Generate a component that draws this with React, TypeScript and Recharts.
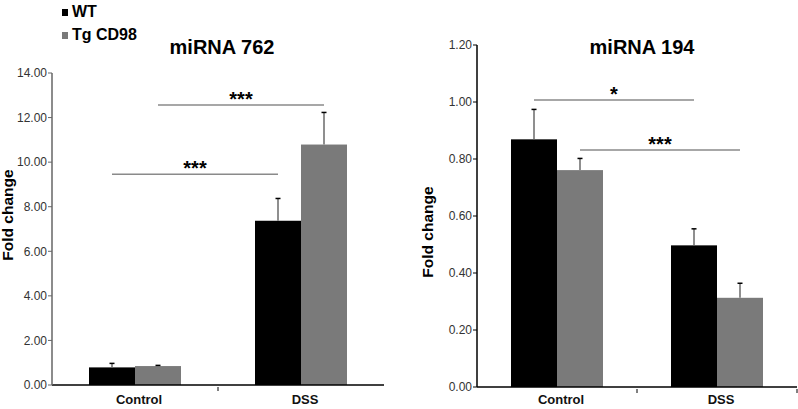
import React from 'react'
import { BarChart, Bar, XAxis, YAxis, ReferenceLine } from 'recharts'

const categories = ['Control', 'DSS']

// miRNA 762
const wt762 = [0.79, 7.37]
const tg762 = [0.85, 10.79]
const wt762Err = [0.18, 1.0]
const tg762Err = [0.03, 1.44]
const ticks762 = [0, 2, 4, 6, 8, 10, 12, 14]

// miRNA 194
const wt194 = [0.869, 0.497]
const tg194 = [0.761, 0.313]
const wt194Err = [0.105, 0.058]
const tg194Err = [0.041, 0.051]
const ticks194 = [0, 0.2, 0.4, 0.6, 0.8, 1.0, 1.2]

// significance brackets: which series they join, height, stars
const sig762 = [
  { series: 'wt', y: 9.46, stars: '***' },
  { series: 'tg', y: 12.56, stars: '***' },
]
const sig194 = [
  { series: 'wt', y: 1.007, stars: '*' },
  { series: 'tg', y: 0.832, stars: '***' },
]

const WT_COLOR = '#000000'
const TG_COLOR = '#7a7a7a'
const FONT = '"Liberation Sans", Arial, sans-serif'
const BAR_SIZE = 46

const build = (wt: number[], tg: number[], wtErr: number[], tgErr: number[]) =>
  categories.map((c, i) => ({ name: c, wt: wt[i], tg: tg[i], wtErr: wtErr[i], tgErr: tgErr[i] }))

const data762 = build(wt762, tg762, wt762Err, tg762Err)
const data194 = build(wt194, tg194, wt194Err, tg194Err)

// bar + upward-only error bar, error length scaled from the bar's own geometry
function barWithError(errKey: 'wtErr' | 'tgErr') {
  return (props: any) => {
    const { x, y, width, height, fill, payload, value } = props
    const v = Array.isArray(value) ? value[1] - value[0] : value
    const err = payload[errKey]
    const top = y - (err * height) / v
    const cx = x + width / 2
    return (
      <g>
        <rect x={x} y={y} width={width} height={height} fill={fill} />
        <line x1={cx} y1={y} x2={cx} y2={top} stroke="#6a6a6a" strokeWidth={1.5} />
        <line x1={cx - 2.5} y1={top} x2={cx + 2.5} y2={top} stroke="#000" strokeWidth={1.5} />
      </g>
    )
  }
}

function sigShape(series: string, stars: string) {
  return (props: any) => {
    const { x1, y1, x2 } = props
    const shift = series === 'wt' ? -BAR_SIZE / 2 : BAR_SIZE / 2
    const a = x1 + shift
    const b = x2 + shift
    return (
      <g>
        <line x1={a} y1={y1} x2={b} y2={y1} stroke="#8a8a8a" strokeWidth={1.5} />
        <text
          x={(a + b) / 2}
          y={y1 + 1}
          textAnchor="middle"
          fontFamily={FONT}
          fontWeight="bold"
          fontSize={20}
          fill="#000"
        >
          {stars}
        </text>
      </g>
    )
  }
}

function CategoryTick(props: any) {
  const { x, y, payload, index, width, endTick, labelDy } = props
  const band = width / categories.length
  const edge = x + band / 2
  const showEdge = index < categories.length - 1 || endTick
  return (
    <g>
      {showEdge && <line x1={edge} y1={y} x2={edge} y2={y + 4} stroke="#000" strokeWidth={1} />}
      <text
        x={x + 4}
        y={y + labelDy}
        textAnchor="middle"
        fontFamily={FONT}
        fontWeight="bold"
        fontSize={13}
        fill="#111"
      >
        {payload.value}
      </text>
    </g>
  )
}

const yTick = { fontSize: 12, fill: '#333', fontFamily: FONT }

export default function App() {
  return (
    <div style={{ position: 'absolute', left: 0, top: 0, width: 798, height: 409, background: '#fff', fontFamily: FONT }}>
      {/* legend */}
      <div style={{ position: 'absolute', left: 62, top: 2, fontWeight: 'bold', fontSize: 16, lineHeight: '20px' }}>
        <div style={{ display: 'flex', alignItems: 'center' }}>
          <span style={{ width: 6, height: 7, background: WT_COLOR, marginRight: 4, display: 'inline-block' }} />
          WT
        </div>
        <div style={{ display: 'flex', alignItems: 'center', marginTop: 3 }}>
          <span style={{ width: 6, height: 7, background: TG_COLOR, marginRight: 4, display: 'inline-block' }} />
          Tg CD98
        </div>
      </div>

      {/* titles */}
      <div style={{ position: 'absolute', left: 122, width: 200, top: 36, textAlign: 'center', fontWeight: 'bold', fontSize: 20 }}>
        miRNA 762
      </div>
      <div style={{ position: 'absolute', left: 542, width: 200, top: 36, textAlign: 'center', fontWeight: 'bold', fontSize: 20 }}>
        miRNA 194
      </div>

      {/* y-axis titles */}
      <div style={{ position: 'absolute', left: 8 - 60, top: 215 - 10, width: 120, textAlign: 'center', fontWeight: 'bold', fontSize: 15.5, lineHeight: '20px', transform: 'rotate(-90deg)' }}>
        Fold change
      </div>
      <div style={{ position: 'absolute', left: 428 - 60, top: 232 - 10, width: 120, textAlign: 'center', fontWeight: 'bold', fontSize: 15.5, lineHeight: '20px', transform: 'rotate(-90deg)' }}>
        Fold change
      </div>

      <div style={{ position: 'absolute', left: 0, top: 0 }}>
        <BarChart width={400} height={409} data={data762} margin={{ top: 73, right: 16, bottom: 0, left: 0 }} barGap={0} barSize={BAR_SIZE}>
          <XAxis
            dataKey="name"
            height={24}
            axisLine={{ stroke: '#000', strokeWidth: 1.5 }}
            tickLine={false}
            tickSize={0}
            tick={<CategoryTick labelDy={17} />}
            interval={0}
          />
          <YAxis
            width={52}
            domain={[0, 14]}
            ticks={ticks762}
            tickFormatter={(v: number) => v.toFixed(2)}
            axisLine={{ stroke: '#666', strokeWidth: 1.5 }}
            tickLine={{ stroke: '#666' }}
            tickSize={4}
            tickMargin={1}
            tick={yTick}
          />
          <Bar dataKey="wt" fill={WT_COLOR} isAnimationActive={false} shape={barWithError('wtErr')} />
          <Bar dataKey="tg" fill={TG_COLOR} isAnimationActive={false} shape={barWithError('tgErr')} />
          {sig762.map((s, i) => (
            <ReferenceLine
              key={i}
              segment={[{ x: 'Control', y: s.y }, { x: 'DSS', y: s.y }]}
              shape={sigShape(s.series, s.stars)}
            />
          ))}
        </BarChart>
      </div>

      <div style={{ position: 'absolute', left: 400, top: 0 }}>
        <BarChart width={398} height={409} data={data194} margin={{ top: 45, right: 1, bottom: 0, left: 0 }} barGap={0} barSize={BAR_SIZE}>
          <XAxis
            dataKey="name"
            height={22}
            axisLine={{ stroke: '#000', strokeWidth: 1.5 }}
            tickLine={false}
            tickSize={0}
            tick={<CategoryTick endTick labelDy={15} />}
            interval={0}
          />
          <YAxis
            width={77}
            domain={[0, 1.2]}
            ticks={ticks194}
            tickFormatter={(v: number) => v.toFixed(2)}
            axisLine={{ stroke: '#000', strokeWidth: 1.5 }}
            tickLine={{ stroke: '#000' }}
            tickSize={4}
            tickMargin={1}
            tick={yTick}
          />
          <Bar dataKey="wt" fill={WT_COLOR} isAnimationActive={false} shape={barWithError('wtErr')} />
          <Bar dataKey="tg" fill={TG_COLOR} isAnimationActive={false} shape={barWithError('tgErr')} />
          {sig194.map((s, i) => (
            <ReferenceLine
              key={i}
              segment={[{ x: 'Control', y: s.y }, { x: 'DSS', y: s.y }]}
              shape={sigShape(s.series, s.stars)}
            />
          ))}
        </BarChart>
      </div>
    </div>
  )
}
